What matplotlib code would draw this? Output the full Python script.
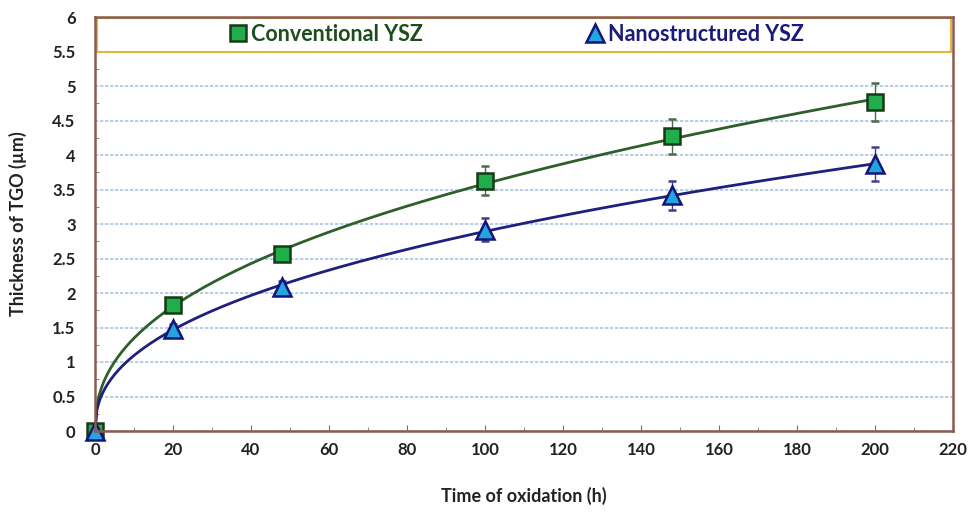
import matplotlib
matplotlib.use("Agg")
import matplotlib.pyplot as plt
import numpy as np
from matplotlib.ticker import MultipleLocator
from matplotlib.lines import Line2D
from matplotlib.patches import Rectangle

plt.rcParams['font.family'] = ['Lato', 'DejaVu Sans']
plt.rcParams['font.weight'] = 'bold'

# data
time_h = [0, 20, 48, 100, 148, 200]
conv = [0.0, 1.82, 2.57, 3.63, 4.27, 4.77]
conv_err = [0.0, 0.08, 0.1, 0.21, 0.25, 0.28]
nano = [0.0, 1.48, 2.08, 2.92, 3.42, 3.87]
nano_err = [0.0, 0.07, 0.1, 0.17, 0.21, 0.24]
series_names = ['Conventional YSZ', 'Nanostructured YSZ']

fig = plt.figure(figsize=(9.74, 5.16), dpi=100)
ax = fig.add_axes([95/974, 1 - 431/516, (953-95)/974, (431-17)/516])

# power law trendlines (like Excel) fitted to the non-zero points
def power_fit(x, y):
    x = np.array(x[1:], float)
    y = np.array(y[1:], float)
    b, loga = np.polyfit(np.log(x), np.log(y), 1)
    return np.exp(loga), b

tt = np.linspace(0, 200, 400)
a1, b1 = power_fit(time_h, conv)
a2, b2 = power_fit(time_h, nano)
ax.plot(tt, a1 * tt**b1, color='#2d5f2a', lw=2, zorder=3)
ax.plot(tt, a2 * tt**b2, color='#1f1f80', lw=2, zorder=3)

sq = dict(marker='s', ms=12, mfc='#1fae4a', mec='#163a16', mew=1.8)
tri = dict(marker='^', ms=13, mfc='#23a6e0', mec='#141478', mew=1.8)
e1 = ax.errorbar(time_h, conv, yerr=conv_err, ls='none', ecolor='#4a6a4a',
                 elinewidth=1, capsize=3, zorder=5, **sq)
e2 = ax.errorbar(time_h, nano, yerr=nano_err, ls='none', ecolor='#40408a',
                 elinewidth=1, capsize=3, zorder=6, **tri)
for e in (e1, e2):
    e[0].set_clip_on(False)

ax.set_xlim(0, 220)
ax.set_ylim(0, 6)
ax.xaxis.set_major_locator(MultipleLocator(20))
ax.xaxis.set_minor_locator(MultipleLocator(10))
ax.set_yticks(np.arange(0, 6.01, 0.5))
ax.set_yticklabels(['0', '0.5', '1', '1.5', '2', '2.5', '3', '3.5', '4', '4.5', '5', '5.5', '6'])
ax.yaxis.set_minor_locator(MultipleLocator(0.25))
ax.tick_params(which='major', direction='in', length=4, color='#8a6a60',
               labelsize=12, pad=8)
ax.tick_params(which='minor', direction='in', length=3, color='#8a6a60')
ax.tick_params(axis='y', which='major', length=0, pad=14)

for lab in ax.get_xticklabels() + ax.get_yticklabels():
    lab.set_fontweight('bold')
    lab.set_color('#222222')

ax.grid(axis='y', which='major', color='#a9c4e4', ls=(0, (2, 1)), lw=1.2)
for s in ax.spines.values():
    s.set_color('#8b5b50')
    s.set_linewidth(1.8)
    s.set_zorder(9)

# legend band across the top
ax.add_patch(Rectangle((0.6, 5.5), 218.8, 0.49, facecolor='white',
                       edgecolor='#e3b83a', lw=1.5, zorder=7))
handles = [Line2D([], [], ls='none', **sq), Line2D([], [], ls='none', **tri)]
leg = ax.legend(handles, series_names, ncol=2, loc='center',
                bbox_to_anchor=(0.49, 5.75/6), frameon=False,
                handletextpad=0.1, handlelength=1.0, columnspacing=7.5,
                prop={'size': 15.5, 'weight': 'bold'})
leg.set_zorder(8)
leg.texts[0].set_color('#1d4d1d')
leg.texts[1].set_color('#1a1a7a')

ax.set_xlabel('Time of oxidation (h)', fontsize=13, fontweight='bold',
              color='#222222', labelpad=21)
ax.set_ylabel('Thickness of TGO (µm)', fontsize=13, fontweight='bold',
              color='#222222', labelpad=18)

fig.savefig('out.png', dpi=100)
